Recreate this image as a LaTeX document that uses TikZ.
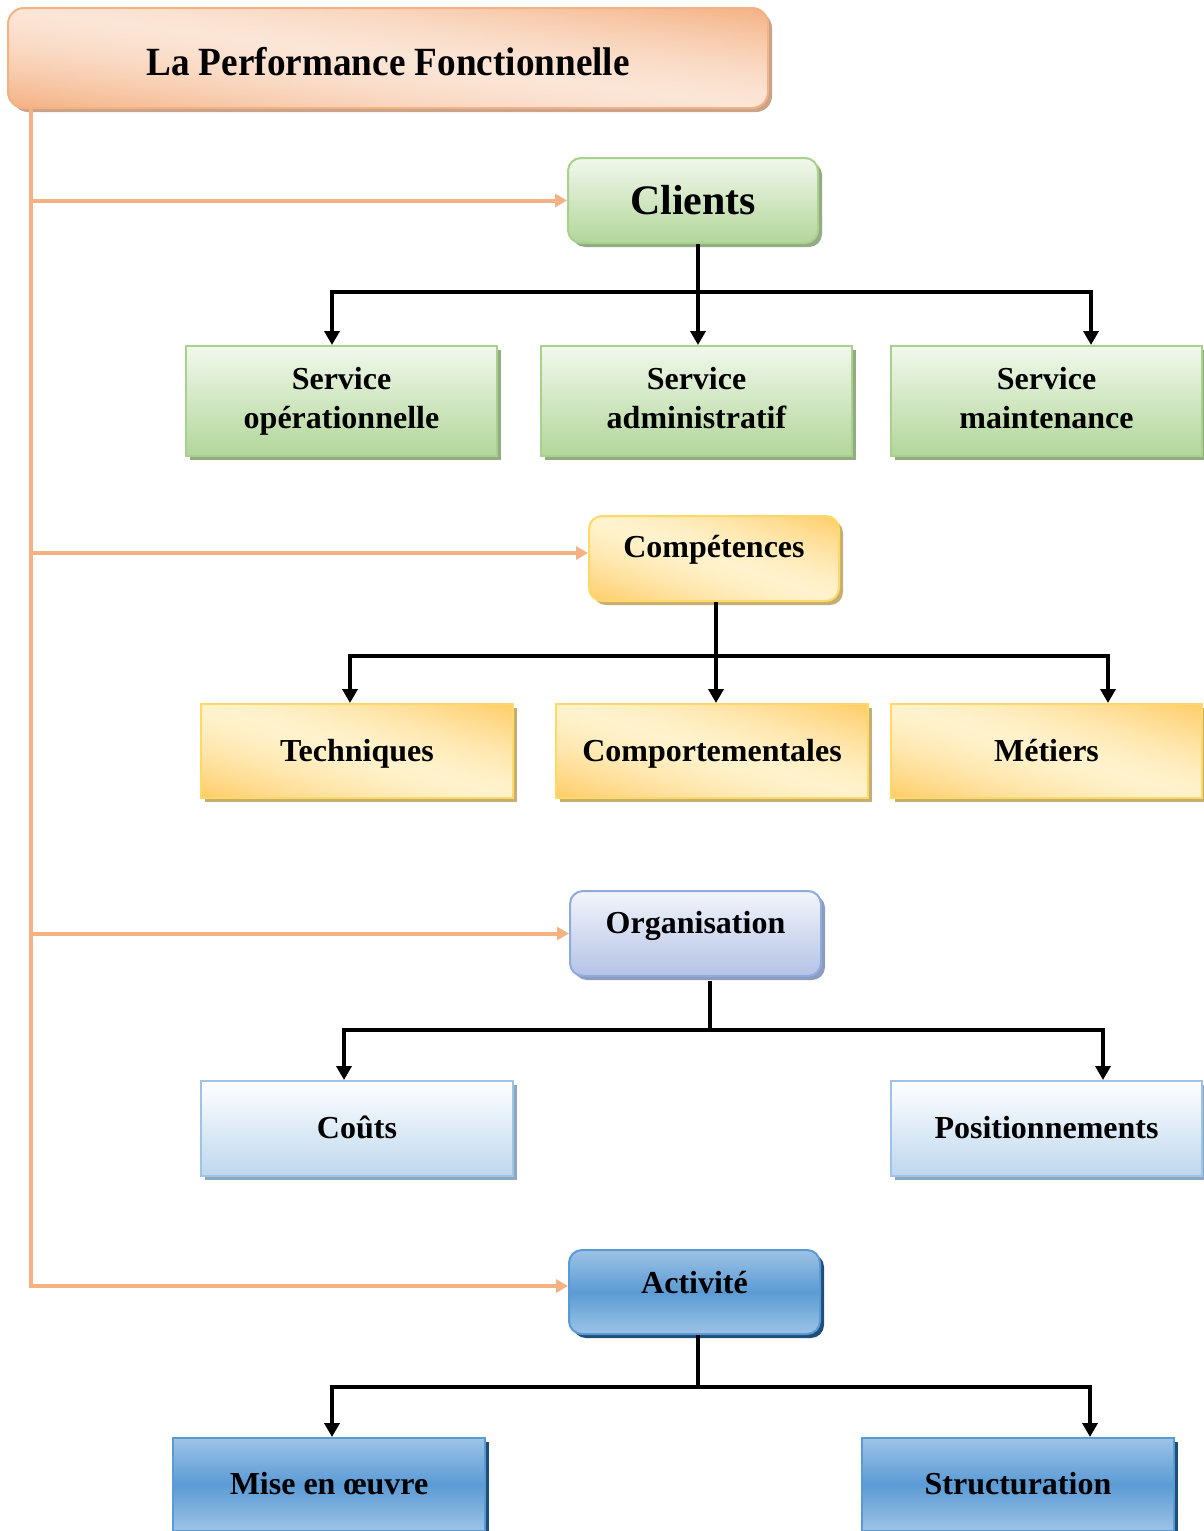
\documentclass[tikz,border=0pt]{standalone}
\usepackage{fontspec}
\setmainfont{Liberation Serif}
\usetikzlibrary{arrows.meta,shadows}

% palette
\definecolor{peachD}{HTML}{F4B183}
\definecolor{peachL}{HTML}{FBE5D6}
\definecolor{peachS}{HTML}{C9A38A}
\definecolor{greenB}{HTML}{A9D18E}
\definecolor{greenT}{HTML}{F1F8EC}
\definecolor{greenM}{HTML}{B2D69A}
\definecolor{greenS}{HTML}{93AB83}
\definecolor{goldD}{HTML}{FFD966}
\definecolor{goldL}{HTML}{FFF2CC}
\definecolor{goldS}{HTML}{C4AE74}
\definecolor{lavB}{HTML}{8FAADC}
\definecolor{lavT}{HTML}{F3F5FB}
\definecolor{lavM}{HTML}{B4C2E6}
\definecolor{lavS}{HTML}{8C9CBF}
\definecolor{skyB}{HTML}{9DC3E6}
\definecolor{skyM}{HTML}{BDD7EE}
\definecolor{skyS}{HTML}{8EA6BF}
\definecolor{blueB}{HTML}{5B9BD5}
\definecolor{blueL}{HTML}{9DC3E6}
\definecolor{blueS}{HTML}{1F4E79}

% diagonal gradients: light along the upper-left/lower-right diagonal,
% dark towards the lower-left and upper-right corners
% (the central 25..75bp square is what covers the shaded path)
\pgfdeclarefunctionalshading{golddiag}{\pgfpoint{0bp}{0bp}}{\pgfpoint{100bp}{100bp}}{}{
  add 100 sub abs 50 div dup 1 gt {pop 1} if
  dup sqrt mul
  dup -0.149 mul 0.949 add
  exch -0.4 mul 0.8 add
  1 3 1 roll
}
\pgfdeclarefunctionalshading{peachdiag}{\pgfpoint{0bp}{0bp}}{\pgfpoint{100bp}{100bp}}{}{
  add 100 sub abs 50 div dup 1 gt {pop 1} if
  dup sqrt mul
  dup dup -0.027 mul 0.984 add
  3 1 roll
  -0.204 mul 0.898 add
  exch
  -0.325 mul 0.839 add
}

\begin{document}
\begin{tikzpicture}[x=1pt,y=-1pt,
  boxfont/.style={font=\bfseries\fontsize{32}{39}\selectfont},
  oneline/.style={text height=21pt, text depth=1pt},
  basebox/.style={draw, line width=2pt, inner sep=0pt, align=center, boxfont},
  rbox/.style={basebox, rounded corners=13pt, minimum width=250pt, minimum height=85pt},
  sbox/.style={basebox, minimum width=311pt},
  castshadow/.style={general shadow={fill=#1, draw=none, shadow xshift=4pt, shadow yshift=-4pt}},
  greenbox/.style={draw=greenB, top color=greenT, bottom color=greenM, castshadow=greenS},
  goldbox/.style={draw=goldD, shade, shading=golddiag, castshadow=goldS},
  lavbox/.style={draw=lavB, top color=lavT, bottom color=lavM, castshadow=lavS},
  skybox/.style={draw=skyB, top color=white, bottom color=skyM, castshadow=skyS},
  bluebox/.style={draw=blueB, top color=blueL, bottom color=blueL, middle color=blueB, castshadow=blueS},
  blk/.style={line width=4pt, draw=black},
  blkarr/.style={blk, -{Triangle[width=15pt,length=14pt]}},
  trunkline/.style={line width=4pt, draw=peachD},
  trunkarr/.style={trunkline, -{Triangle[width=13pt,length=12pt]}}
]
\useasboundingbox (0,0) rectangle (1204,1531);

% title
\node[basebox, draw=peachD, rounded corners=16pt, minimum width=760pt, minimum height=100pt,
      shade, shading=peachdiag, castshadow=peachS] (title) at (388,58) {};
\node[font=\bfseries\fontsize{40}{46}\selectfont] (titlet) at ([yshift=-4pt]title.center)
      {\scalebox{0.93}[1]{La Performance Fonctionnelle}};

% first level
\node[rbox, greenbox, font=\bfseries\fontsize{42}{48}\selectfont] (clients) at (693,200.5) {Clients};
\node[rbox, goldbox] (comp) at (714,558.5) {};
\node[boxfont] (compt) at ([yshift=9pt]comp.center) {Compétences};
\node[rbox, lavbox, minimum width=251pt] (org) at (695.5,933.5) {};
\node[boxfont] (orgt) at ([yshift=8pt]org.center) {Organisation};
\node[rbox, bluebox, minimum width=251pt, minimum height=84pt] (act) at (694.5,1292) {};
\node[boxfont] (actt) at ([yshift=9pt]act.center) {Activité};

% second level
\node[sbox, greenbox, minimum height=110pt] (s1) at (341.5,401) {Service\strut\\opérationnelle\strut};
\node[sbox, greenbox, minimum height=110pt] (s2) at (696.5,401) {Service\strut\\administratif\strut};
\node[sbox, greenbox, minimum height=110pt] (s3) at (1046.5,401) {Service\strut\\maintenance\strut};

\node[sbox, goldbox, oneline, minimum width=312pt, minimum height=94pt] (y1) at (357,751) {Techniques};
\node[sbox, goldbox, oneline, minimum width=312pt, minimum height=94pt] (y2) at (712,751) {Comportementales};
\node[sbox, goldbox, oneline, minimum height=94pt] (y3) at (1046.5,751) {Métiers};

\node[sbox, skybox, oneline, minimum width=312pt, minimum height=95pt] (c1) at (357,1128.5) {Coûts};
\node[sbox, skybox, oneline, minimum height=95pt] (c2) at (1046.5,1128.5) {Positionnements};

\node[sbox, bluebox, oneline, minimum width=312pt, minimum height=93pt] (m1) at (329,1484.5) {Mise en œuvre};
\node[sbox, bluebox, oneline, minimum width=312pt, minimum height=93pt] (m2) at (1018,1484.5) {Structuration};

% orange trunk and branches
\coordinate (tk) at (31,0);
\draw[trunkarr] (tk |- title.south) |- (act.west |- 0,1286);
\draw[trunkarr] (tk |- clients.west) -- (clients.west);
\draw[trunkarr] (tk |- 0,553) -- (comp.west |- 0,553);
\draw[trunkarr] (tk |- org.west) -- (org.west);

% Clients bus
\coordinate (ka) at (698,292);
\coordinate (kal) at (332,292);
\coordinate (kar) at (1091,292);
\draw[blkarr] (ka |- clients.south) -- (ka |- s2.north);
\draw[blkarr] (ka) -| (kal |- s1.north);
\draw[blkarr] (ka) -| (kar |- s3.north);

% Compétences bus
\coordinate (kb) at (716,656);
\coordinate (kbl) at (350,656);
\coordinate (kbr) at (1108,656);
\draw[blkarr] (kb |- comp.south) -- (kb |- y2.north);
\draw[blkarr] (kb) -| (kbl |- y1.north);
\draw[blkarr] (kb) -| (kbr |- y3.north);

% Organisation bus
\coordinate (kc) at (710,1030);
\coordinate (kcl) at (344,1030);
\coordinate (kcr) at (1103,1030);
\draw[blk] ([yshift=-4pt]kc |- org.south) -- (kc);
\draw[blkarr] (kc) -| (kcl |- c1.north);
\draw[blkarr] (kc) -| (kcr |- c2.north);

% Activité bus
\coordinate (kd) at (698,1387);
\coordinate (kdl) at (332,1387);
\coordinate (kdr) at (1090,1387);
\draw[blk] (kd |- act.south) -- (kd);
\draw[blkarr] (kd) -| (kdl |- m1.north);
\draw[blkarr] (kd) -| (kdr |- m2.north);
\end{tikzpicture}
\end{document}
